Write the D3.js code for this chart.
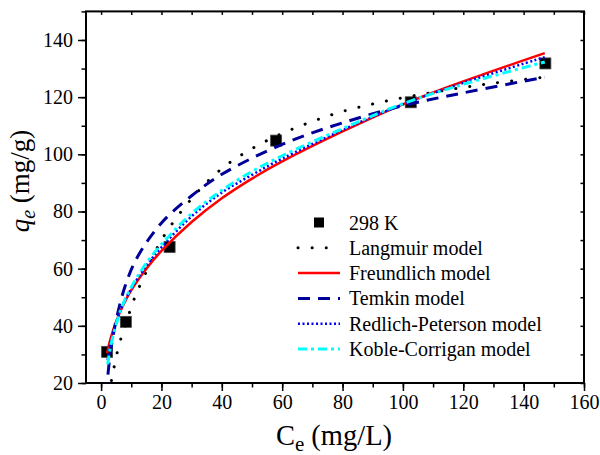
<!DOCTYPE html>
<html>
<head>
<meta charset="utf-8">
<script src="https://cdn.jsdelivr.net/npm/d3@7"></script>
<style>
  body { margin: 0; background: #fff; }
  svg { display: block; }
</style>
</head>
<body>
<svg id="chart" width="600" height="455"></svg>
<script>
// observed data, 298 K
var obsC = [2, 8.2, 22.7, 58, 102.6, 147.2];
var obsQ = [30.9, 41.4, 67.6, 104.8, 118.2, 131.8];

// fitted curves
var langmuirC = [2.6, 4, 6, 8, 11, 15, 20, 30, 40, 50, 60, 70, 80, 90, 100, 110, 120, 130, 147];
var langmuirQ = [16, 24, 33.5, 40, 49.5, 59, 70, 84.5, 95, 102, 107.3, 111.5, 115, 117.6, 119.8, 121.7, 123.4, 124.9, 127];

var freundlichC = [2, 3, 5, 7, 10, 15, 20, 30, 40, 50, 60, 80, 100, 120, 147];
var freundlichQ = [30.4, 35, 41.5, 46.5, 52.5, 60, 66.2, 76.3, 84.6, 91.5, 97.5, 108, 117.5, 125.5, 135.4];

var temkinC = [1.7, 3, 5, 8, 12, 20, 30, 40, 60, 80, 100, 120, 147];
var temkinQ = [16, 30, 42, 54, 64, 76, 85.5, 93, 103.5, 111, 117, 121.5, 127];

var rpC = [2.2, 3, 5, 7, 10, 15, 20, 30, 40, 50, 60, 80, 100, 120, 147];
var rpQ = [28, 33.5, 41, 47, 53, 61, 67.5, 78.3, 86.6, 92.8, 98.5, 108.5, 117.5, 125, 134];

var kcC = [2.2, 3, 5, 7, 10, 15, 20, 30, 40, 50, 60, 80, 100, 120, 147];
var kcQ = [26.5, 32, 40.5, 47, 53.5, 62, 68.5, 79.3, 87.4, 94, 99.5, 109, 117.7, 124.5, 132.3];

var xTicks = [0, 20, 40, 60, 80, 100, 120, 140, 160];
var yTicks = [20, 40, 60, 80, 100, 120, 140];

var models = [
    {name: "Langmuir model", c: langmuirC, q: langmuirQ, color: "#000000", width: 3, dash: "0.1 14", cap: "round"},
    {name: "Freundlich model", c: freundlichC, q: freundlichQ, color: "#ff0000", width: 2.5, dash: null, cap: "butt"},
    {name: "Temkin model", c: temkinC, q: temkinQ, color: "#000099", width: 3, dash: "12 8", cap: "butt"},
    {name: "Redlich-Peterson model", c: rpC, q: rpQ, color: "#0000ff", width: 2.5, dash: "2 2.5", cap: "butt"},
    {name: "Koble-Corrigan model", c: kcC, q: kcQ, color: "#00ffff", width: 3, dash: "9 4 3 4", cap: "butt"}
];

var FONT = "'Liberation Serif', 'Times New Roman', Times, serif";

var svg = d3.select("#chart");
var plotLeft = 86, plotRight = 584, plotTop = 11.4, plotBottom = 383;

var x = d3.scaleLinear().domain([-5, 160]).range([plotLeft, plotRight]);
var y = d3.scaleLinear().domain([20, 150]).range([plotBottom, plotTop]);

svg.append("clipPath").attr("id", "plotClip")
    .append("rect")
    .attr("x", plotLeft).attr("y", plotTop)
    .attr("width", plotRight - plotLeft).attr("height", plotBottom - plotTop);

// minor ticks
var minorX = d3.range(0, 161, 10);
var minorY = d3.range(20, 151, 10);

function styleAxis(g) {
    g.select(".domain").remove();
    g.attr("font-family", FONT).attr("font-size", 20);
    g.selectAll("line").attr("stroke", "#000").attr("stroke-width", 1.5);
    g.selectAll("text").style("font-family", FONT).style("font-size", "20px").attr("fill", "#000");
}

svg.append("g").attr("transform", "translate(0," + plotBottom + ")")
    .call(d3.axisBottom(x).tickValues(minorX).tickSize(4.5).tickFormat(""))
    .call(styleAxis);
svg.append("g").attr("transform", "translate(0," + plotBottom + ")")
    .call(d3.axisBottom(x).tickValues(xTicks).tickSize(8).tickPadding(4).tickFormat(d3.format("d")))
    .call(styleAxis);

svg.append("g").attr("transform", "translate(" + plotLeft + ",0)")
    .call(d3.axisLeft(y).tickValues(minorY).tickSize(4.5).tickFormat(""))
    .call(styleAxis);
svg.append("g").attr("transform", "translate(" + plotLeft + ",0)")
    .call(d3.axisLeft(y).tickValues(yTicks).tickSize(8).tickPadding(5).tickFormat(d3.format("d")))
    .call(styleAxis);

svg.append("g").attr("transform", "translate(0," + plotTop + ")")
    .call(d3.axisTop(x).tickValues(minorX).tickSize(-3.5).tickFormat(""))
    .call(styleAxis);
svg.append("g").attr("transform", "translate(" + plotRight + ",0)")
    .call(d3.axisRight(y).tickValues(minorY).tickSize(-3.5).tickFormat(""))
    .call(styleAxis);

// frame
svg.append("rect")
    .attr("x", plotLeft).attr("y", plotTop)
    .attr("width", plotRight - plotLeft).attr("height", plotBottom - plotTop)
    .attr("fill", "none").attr("stroke", "#000").attr("stroke-width", 2);

// data squares
svg.append("g").selectAll("rect")
    .data(d3.range(obsC.length))
    .enter().append("rect")
    .attr("x", function (i) { return x(obsC[i]) - 5.5; })
    .attr("y", function (i) { return y(obsQ[i]) - 5.5; })
    .attr("width", 11).attr("height", 11)
    .attr("fill", "#000").attr("stroke", "#444").attr("stroke-width", 0.8);

// model curves
var line = d3.line()
    .x(function (d) { return x(d[0]); })
    .y(function (d) { return y(d[1]); })
    .curve(d3.curveCatmullRom.alpha(0.5));

var curves = svg.append("g").attr("clip-path", "url(#plotClip)");
models.forEach(function (m) {
    curves.append("path")
        .datum(d3.zip(m.c, m.q))
        .attr("d", line)
        .attr("fill", "none")
        .attr("stroke", m.color)
        .attr("stroke-width", m.width)
        .attr("stroke-linecap", m.cap)
        .attr("stroke-dasharray", m.dash);
});

// legend
var lgX = 298, lgY = 222.5, lgStep = 25.3;
var legend = svg.append("g");
legend.append("rect")
    .attr("x", 314).attr("y", lgY - 5).attr("width", 10).attr("height", 10)
    .attr("fill", "#000");
legend.append("text")
    .attr("x", 349).attr("y", lgY + 7)
    .style("font-family", FONT).style("font-size", "20px")
    .text("298 K");
models.forEach(function (m, i) {
    var yy = lgY + lgStep * (i + 1);
    legend.append("line")
        .attr("x1", lgX).attr("x2", lgX + 42)
        .attr("y1", yy).attr("y2", yy)
        .attr("stroke", m.color)
        .attr("stroke-width", m.width)
        .attr("stroke-linecap", m.cap)
        .attr("stroke-dasharray", m.dash);
    legend.append("text")
        .attr("x", 349).attr("y", yy + 7)
        .style("font-family", FONT).style("font-size", "20px")
        .text(m.name);
});

// axis titles
var xt = svg.append("text")
    .attr("x", 334).attr("y", 445)
    .attr("text-anchor", "middle")
    .style("font-family", FONT).style("font-size", "28.5px");
xt.append("tspan").text("C");
xt.append("tspan").attr("dy", 6).style("font-size", "21px").text("e");
xt.append("tspan").attr("dy", -6).text(" (mg/L)");

var yt = svg.append("text")
    .attr("transform", "translate(29,181) rotate(-90)")
    .attr("text-anchor", "middle")
    .style("font-family", FONT).style("font-size", "27px");
yt.append("tspan").style("font-style", "italic").text("q");
yt.append("tspan").attr("dy", 6).style("font-size", "20px").style("font-style", "italic").text("e");
yt.append("tspan").attr("dy", -6).text(" (mg/g)");
</script>
</body>
</html>
